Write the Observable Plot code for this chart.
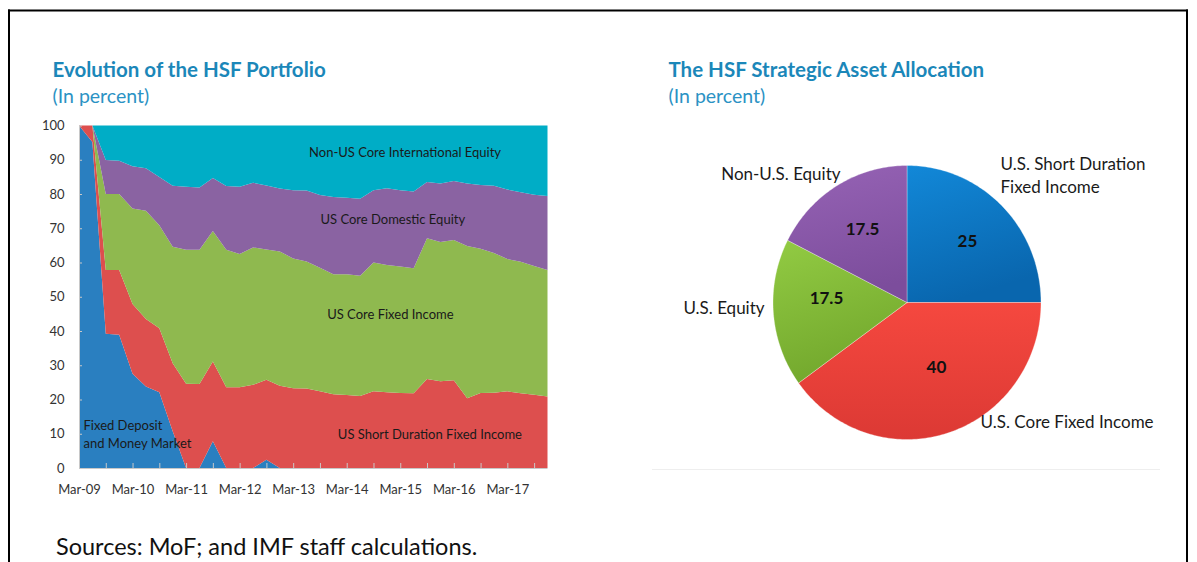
<!DOCTYPE html>
<html><head><meta charset="utf-8">
<script src="https://cdn.jsdelivr.net/npm/d3@7"></script>
<script src="https://cdn.jsdelivr.net/npm/@observablehq/plot@0.6"></script>
<style>
html,body{margin:0;padding:0;background:#fff;}
#root{position:relative;width:1197px;height:562px;overflow:hidden;}
#deco{position:absolute;left:0;top:0;}
#left{position:absolute;left:0;top:100px;}
#right{position:absolute;left:640px;top:130px;}
</style></head><body>
<div id="root">
<svg id="deco" width="1197" height="562" font-family="Lato, sans-serif">
  <defs>
    <linearGradient id="gPie0" x1="0" y1="0" x2="0.3" y2="1"><stop offset="0" stop-color="#1288d8"/><stop offset="1" stop-color="#0966ae"/></linearGradient>
    <linearGradient id="gPie1" x1="0" y1="0" x2="0" y2="1"><stop offset="0" stop-color="#f5483f"/><stop offset="1" stop-color="#dc3934"/></linearGradient>
    <linearGradient id="gPie2" x1="0" y1="0" x2="0.3" y2="1"><stop offset="0" stop-color="#92cb43"/><stop offset="1" stop-color="#73a82d"/></linearGradient>
    <linearGradient id="gPie3" x1="0" y1="0" x2="0.2" y2="1"><stop offset="0" stop-color="#9663b5"/><stop offset="1" stop-color="#7c4d9c"/></linearGradient>
  </defs>
  <rect x="8" y="9.5" width="1180" height="2" fill="#000"/>
  <rect x="8" y="9.5" width="2" height="553" fill="#000"/>
  <rect x="1186" y="9.5" width="2" height="553" fill="#000"/>
  <rect x="652" y="469" width="508" height="1" fill="#eeeeee"/>
  <text x="52.5" y="77" font-size="20.5" font-weight="700" fill="#1b87b9">Evolution of the HSF Portfolio</text>
  <text x="52.5" y="103" font-size="19.5" fill="#2b92c4">(In percent)</text>
  <text x="668.5" y="77" font-size="20.5" font-weight="700" fill="#1b87b9">The HSF Strategic Asset Allocation</text>
  <text x="668.5" y="103" font-size="19.5" fill="#2b92c4">(In percent)</text>
  <text x="56" y="555" font-size="23.5" fill="#111">Sources: MoF; and IMF staff calculations.</text>
</svg>
<div id="left"></div>
<div id="right"></div>
</div>
<script>
// ---------- Left chart data (percent of portfolio, quarterly) ----------
const quarters = [
  "Mar-09","Jun-09","Sep-09","Dec-09","Mar-10","Jun-10","Sep-10","Dec-10",
  "Mar-11","Jun-11","Sep-11","Dec-11","Mar-12","Jun-12","Sep-12","Dec-12",
  "Mar-13","Jun-13","Sep-13","Dec-13","Mar-14","Jun-14","Sep-14","Dec-14",
  "Mar-15","Jun-15","Sep-15","Dec-15","Mar-16","Jun-16","Sep-16","Dec-16",
  "Mar-17","Jun-17","Sep-17","Dec-17"
];
const seriesNames = [
  "Fixed Deposit and Money Market",
  "US Short Duration Fixed Income",
  "US Core Fixed Income",
  "US Core Domestic Equity",
  "Non-US Core International Equity"
];
const fixedDeposit = [100,95.2,39.2,38.9,27.5,23.8,22.1,10.7,0,0,7.8,0,0,0,2.4,0,0,0,0,0,0,0,0,0,0,0,0,0,0,0,0,0,0,0,0,0];
const usShortDuration = [0,4.8,18.6,18.9,20.4,19.7,18.7,19.9,24.6,24.5,23.3,23.6,23.6,24.3,23.4,24.0,23.3,23.2,22.4,21.5,21.3,21.0,22.4,22.1,21.9,21.8,26.0,25.3,25.6,20.4,21.9,22.0,22.4,21.8,21.4,20.9];
const usCoreFixed = [0,0,22.2,22.2,27.9,31.6,30.1,34.0,39.1,39.2,38.1,40.1,38.9,40.1,38.0,39.2,37.9,37.1,36.1,35.1,35.3,35.1,37.6,37.2,36.9,36.5,41.1,40.7,41.0,44.4,42.1,40.8,38.6,38.4,37.6,36.9];
const usCoreDomestic = [0,0,9.9,9.7,12.3,12.4,14.1,17.8,18.4,18.2,15.5,18.6,19.6,18.9,18.7,18.4,19.9,20.7,21.2,22.5,22.3,22.5,21.1,22.4,22.3,22.4,16.4,17.1,17.2,18.3,18.6,19.6,20.3,20.3,20.8,21.6];
const nonUSIntl = [0,0,10.1,10.3,11.9,12.5,15.0,17.6,17.9,18.1,15.3,17.7,17.9,16.7,17.5,18.4,18.9,19.0,20.3,20.9,21.1,21.4,18.9,18.3,18.9,19.3,16.5,16.9,16.2,16.9,17.4,17.6,18.7,19.5,20.2,20.6];
const yTicks = [0,10,20,30,40,50,60,70,80,90,100];
const seriesColors = ["#2a7fc0","#dd4f4e","#8fb94f","#8a63a2","#00adc6"];

// annotation texts placed in data space (quarter index, percent)
const areaLabels = [
  {text: "Non-US Core International Equity", x: 17.15, y: 92.5},
  {text: "US Core Domestic Equity", x: 18.0, y: 72.9},
  {text: "US Core Fixed Income", x: 18.5, y: 45.2},
  {text: "US Short Duration Fixed Income", x: 19.3, y: 10.2},
  {text: "Fixed Deposit\nand Money Market", x: 0.3, y: 10.35}
];

// ---------- Right chart data ----------
const pieNames = ["U.S. Short Duration Fixed Income","U.S. Core Fixed Income","U.S. Equity","Non-U.S. Equity"];
const pieValues = [25, 40, 17.5, 17.5];
const pieFills = ["url(#gPie0)","url(#gPie1)","url(#gPie2)","url(#gPie3)"];
// label placement in pie space (unit radius)
const pieValuePos = [[0.451, 0.445], [0.22, -0.474], [-0.601, 0.029], [-0.332, 0.533]];
const pieOuterLabels = [
  {text: "Non-U.S. Equity", x: -0.496, y: 0.95, anchor: "end"},
  {text: "U.S. Short Duration\nFixed Income", x: 0.698, y: 0.94, anchor: "start"},
  {text: "U.S. Equity", x: -1.063, y: -0.03, anchor: "end"},
  {text: "U.S. Core Fixed Income", x: 0.549, y: -0.862, anchor: "start"}
];

// ---------- Build left chart ----------
const seriesValues = [fixedDeposit, usShortDuration, usCoreFixed, usCoreDomestic, nonUSIntl];
const rows = [];
seriesValues.forEach((vals, s) => vals.forEach((v, i) => rows.push({i, quarter: quarters[i], series: seriesNames[s], value: v})));
const yearTicks = quarters.map((q, i) => i).filter(i => quarters[i].startsWith("Mar"));
const halfTicks = quarters.map((q, i) => i).filter(i => /^(Mar|Sep)/.test(quarters[i]));

const leftChart = Plot.plot({
  width: 560, height: 400,
  marginLeft: 79, marginRight: 12.5, marginTop: 25.5, marginBottom: 32,
  style: {fontFamily: "Lato, sans-serif", fontSize: "13px", color: "#333", background: "transparent"},
  x: {domain: [0, quarters.length - 1], axis: null},
  y: {domain: [0, 100], axis: null},
  color: {domain: seriesNames, range: seriesColors},
  marks: [
    Plot.areaY(rows, {x: "i", y: "value", fill: "series", z: "series"}),
    Plot.ruleY([0], {stroke: "#c8c8c8"}),
    Plot.ruleX([0], {stroke: "#c8c8c8"}),
    Plot.axisY({ticks: yTicks, tickSize: 3, dx: 3, tickFormat: () => "", stroke: "#c8c8c8"}),
    Plot.axisY({ticks: yTicks, tickSize: 0, tickPadding: 15, fill: "#333"}),
    Plot.axisX({ticks: halfTicks, tickSize: 5, dy: -5, tickFormat: () => "", stroke: "#c8c8c8"}),
    Plot.axisX({ticks: yearTicks, tickSize: 0, tickPadding: 16.5, tickFormat: i => quarters[i], fill: "#333"}),
    Plot.text(areaLabels, {x: "x", y: "y", text: "text", textAnchor: "start", fontSize: 13, fill: "#1a1a1a", lineHeight: 1.36})
  ]
});
document.getElementById("left").append(leftChart);

// ---------- Build pie ----------
const arcs = d3.pie().sort(null)(pieValues);
const slicePts = arcs.map((a, k) => {
  const pts = [{x: 0, y: 0}];
  const n = Math.max(2, Math.ceil((a.endAngle - a.startAngle) / (Math.PI / 180)));
  for (let j = 0; j <= n; j++) {
    const t = a.startAngle + (a.endAngle - a.startAngle) * j / n;
    pts.push({x: Math.sin(t), y: Math.cos(t)});
  }
  pts.push({x: 0, y: 0});
  return pts;
});
const valueLabels = pieValues.map((v, k) => ({text: String(v), x: pieValuePos[k][0], y: pieValuePos[k][1]}));

const pieChart = Plot.plot({
  width: 557, height: 340,
  marginLeft: 132.5, marginRight: 156.5, marginTop: 35, marginBottom: 31,
  style: {fontFamily: "Lato, sans-serif", fontSize: "17px", color: "#111", background: "transparent"},
  x: {domain: [-1, 1], axis: null},
  y: {domain: [-1, 1], axis: null},
  marks: [
    ...slicePts.map((pts, k) => Plot.line(pts, {x: "x", y: "y", fill: pieFills[k], stroke: "#ffffff", strokeOpacity: 0.3, strokeWidth: 1, title: () => pieNames[k] + ": " + pieValues[k]})),
    Plot.text(valueLabels, {x: "x", y: "y", text: "text", fontWeight: "bold", fontSize: 17, fill: "#111"}),
    Plot.text(pieOuterLabels.filter(d => d.anchor === "start"), {x: "x", y: "y", text: "text", textAnchor: "start", fontSize: 17, fill: "#1a1a1a", lineHeight: 1.35}),
    Plot.text(pieOuterLabels.filter(d => d.anchor === "end"), {x: "x", y: "y", text: "text", textAnchor: "end", fontSize: 17, fill: "#1a1a1a", lineHeight: 1.35})
  ]
});
document.getElementById("right").append(pieChart);
</script>
</body></html>
